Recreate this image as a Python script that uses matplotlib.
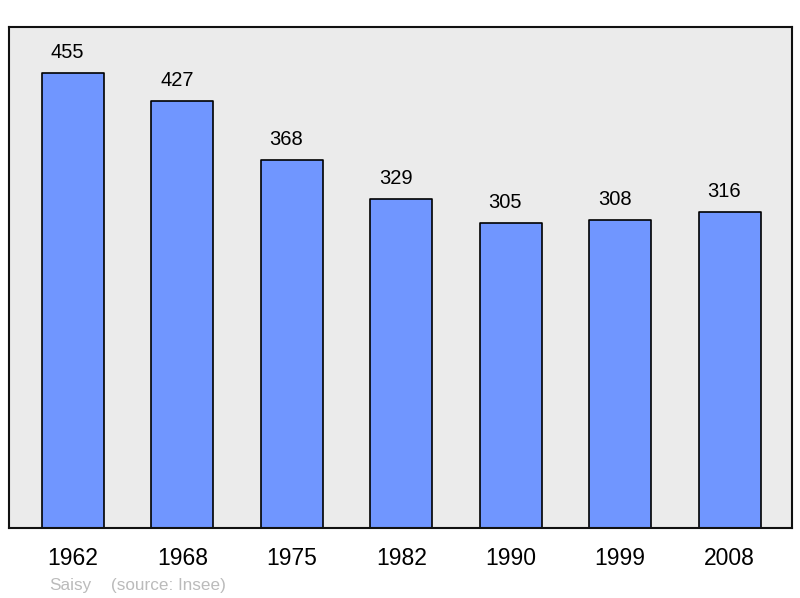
import matplotlib.pyplot as plt

plt.rcParams['font.family'] = ['Liberation Sans', 'DejaVu Sans']

years = ['1962', '1968', '1975', '1982', '1990', '1999', '2008']
population = [455, 427, 368, 329, 305, 308, 316]

fig = plt.figure(figsize=(8, 5.98), dpi=100)
ax = fig.add_axes([9 / 800, 70 / 598, 783 / 800, 501 / 598])
ax.set_facecolor('#ebebeb')

x = list(range(len(years)))
ax.bar(x, population, width=0.567, color='#7096ff', edgecolor='black',
       linewidth=1.2, joinstyle='round', zorder=2)

# valeurs au-dessus des barres
for xi, v in zip(x, population):
    ax.text(xi - 0.05, v + 15, str(v), ha='center', va='baseline',
            fontsize=14.5, color='black')

ax.set_xlim(-0.585, 6.571)
ax.set_ylim(0, 501)
ax.set_yticks([])
ax.set_xticks(x)
ax.set_xticklabels(years, fontsize=16.5)
ax.tick_params(axis='x', length=0, pad=14)

for s in ax.spines.values():
    s.set_linewidth(1.5)
    s.set_color('#111111')

fig.text(49 / 800, 1 - 590 / 598, 'Saisy', fontsize=12.3, color='#bbbbbb',
         ha='left', va='baseline')
fig.text(111 / 800, 1 - 590 / 598, '(source: Insee)', fontsize=12.3,
         color='#bbbbbb', ha='left', va='baseline')

fig.savefig('out.png', dpi=100, facecolor='white')
